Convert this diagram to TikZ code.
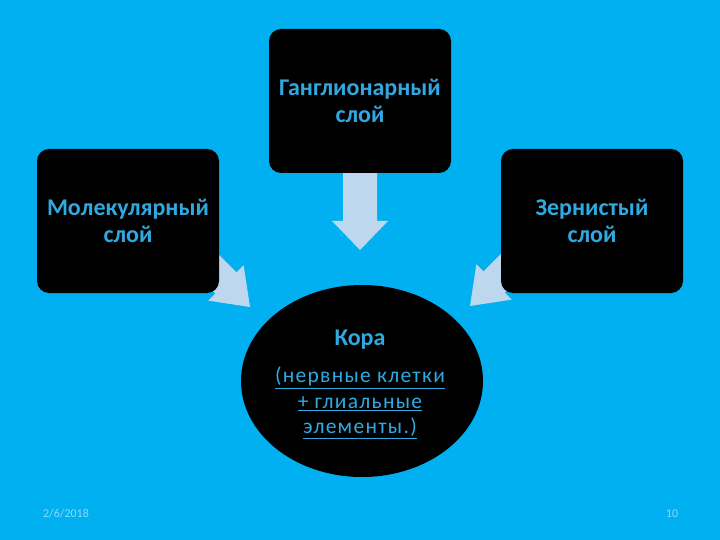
\documentclass[tikz,border=0pt]{standalone}
\usepackage{fontspec}
\setmainfont{Carlito}
\usepackage{xcolor,tikz}
\usetikzlibrary{positioning,calc,shapes.geometric}
\definecolor{slideCyan}{HTML}{00B0F0}
\definecolor{layerText}{HTML}{2FA9E0}
\definecolor{arrowFill}{HTML}{BDD7EE}
\definecolor{footText}{HTML}{8ED8F8}

% fat block arrow from #1 to #2 (tip)
\newcommand{\fatarrow}[5]{% from, tip, shaft half, head half, head length
  \coordinate (fa-h) at ($(#2)!#5!(#1)$);
  \fill[arrowFill]
    ($(#1)!#3!90:(#2)$) -- ($(fa-h)!#3!-90:(#1)$) -- ($(fa-h)!#4!-90:(#1)$)
    -- (#2) -- ($(fa-h)!#4!90:(#1)$) -- ($(fa-h)!#3!90:(#1)$)
    -- ($(#1)!#3!-90:(#2)$) -- cycle;
}

\begin{document}
\begin{tikzpicture}[x=1pt,y=-1pt,
  layer/.style={draw=none, fill=black, rounded corners=12pt, text=layerText,
    align=center, minimum width=182pt, minimum height=144pt,
    font=\fontsize{24}{27}\selectfont\bfseries},
  foot/.style={text=footText, font=\fontsize{12}{14}\selectfont}]

% --- BACKGROUND ---
\fill[slideCyan] (0,0) rectangle (720,540);
\useasboundingbox (0,0) rectangle (720,540);

% --- ARROW END POINTS ---
\coordinate (downFrom) at (360,172);
\coordinate (downTip)  at (360,250);
\coordinate (leftFrom) at (195,252);
\coordinate (leftTip)  at (250,307);
\coordinate (rightFrom) at (524,252);
\coordinate (rightTip)  at (470,306);

% --- ARROWS (behind the boxes) ---
\fatarrow{downFrom}{downTip}{17pt}{28pt}{29pt}
\fatarrow{leftFrom}{leftTip}{15pt}{25pt}{34pt}
\fatarrow{rightFrom}{rightTip}{15pt}{25pt}{34pt}

% --- LAYERS ---
\node[layer] (gang) at (360,101) {Ганглионарный\\слой};
\node[layer] (mol)  at (128,221) {Молекулярный\\слой};
\node[layer] (zern) at (592,221) {Зернистый\\слой};

% --- CORTEX ---
\node[ellipse, fill=black, minimum width=242pt, minimum height=192pt, inner sep=0pt]
  (kora) at (362,381) {};
\node[text=layerText, font=\fontsize{24}{27}\selectfont\bfseries] (koraT) at (360,340) {Кора};
\node[text=layerText, align=center, font=\fontsize{21.5}{25.5}\selectfont\addfontfeatures{LetterSpace=6}]
  (koraS) at (360,403) {\underline{(нервные клетки}\\\underline{+ глиальные}\\\underline{элементы.)}};

% --- FOOTER ---
\node[foot] (date) at (66,514) {2/6/2018};
\node[foot] (page) at (672,514) {10};

\end{tikzpicture}
\end{document}
